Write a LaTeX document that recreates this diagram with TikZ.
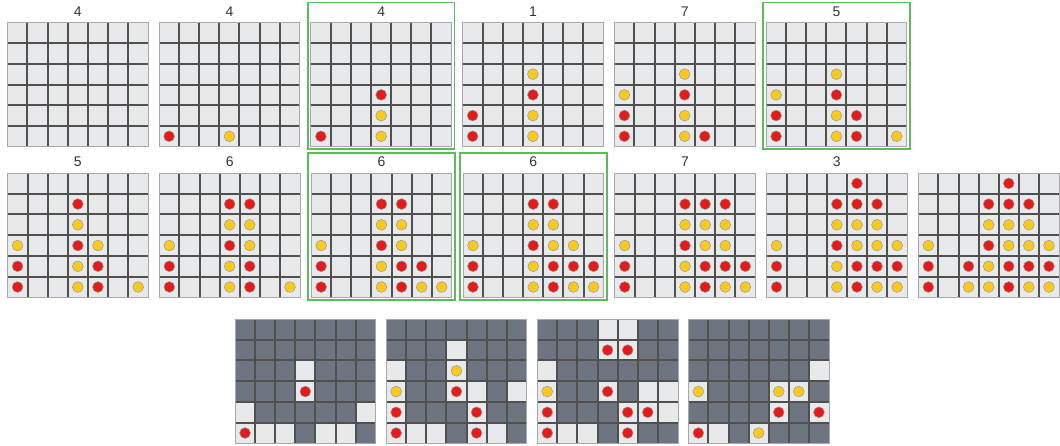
\documentclass[tikz,border=0pt]{standalone}
\usepackage{fontspec}
\setmainfont{Liberation Sans}
\usetikzlibrary{calc}

\definecolor{cellgray}{HTML}{E8E9EB}
\definecolor{slotgray}{HTML}{6E7580}
\definecolor{gridgray}{HTML}{505050}
\definecolor{edgegray}{HTML}{A8A8A8}
\definecolor{discred}{HTML}{E31B1B}
\definecolor{discyellow}{HTML}{F9C91E}
\definecolor{pickgreen}{HTML}{5DBB5D}
\definecolor{titlegray}{HTML}{333333}

\tikzset{
  cellfill/.style={fill=cellgray},
  slotfill/.style={fill=slotgray},
  gridline/.style={draw=gridgray, line width=2pt},
  boardedge/.style={draw=edgegray, line width=0.8pt},
  reddisc/.style={fill=discred, draw=gray!80, line width=0.5pt},
  yellowdisc/.style={fill=discyellow, draw=gray!80, line width=0.5pt},
  pickbox/.style={draw=pickgreen, line width=1.8pt},
  boardtitle/.style={font=\fontsize{14}{16}\selectfont, text=titlegray, anchor=base, inner sep=0pt}
}

% grid of one 7x6 board, in cell units
\newcommand{\cfgrid}{%
  \foreach \i in {1,...,6} \draw[gridline] (\i,0) -- (\i,6);
  \foreach \j in {1,...,5} \draw[gridline] (0,\j) -- (7,\j);
  \draw[boardedge] (0,0) rectangle (7,6);
}
% red and yellow discs, given as column/row
\newcommand{\cfdiscs}[2]{%
  \foreach \cc/\rr in {#1} \filldraw[reddisc] (\cc-0.5,\rr-0.5) circle (5.4pt);
  \foreach \cc/\rr in {#2} \filldraw[yellowdisc] (\cc-0.5,\rr-0.5) circle (5.4pt);
}
% #1 name, #2 left, #3 bottom, #4 title, #5 red, #6 yellow
\newcommand{\cfboard}[6]{%
  \begin{scope}[xshift=#2pt, yshift=#3pt, x=20.1pt, y=20.73pt]
    \fill[cellfill] (0,0) rectangle (7,6);
    \cfgrid
    \cfdiscs{#5}{#6}
  \end{scope}
  \node[boardtitle] (#1) at ({#2pt+70.35pt},{#3pt+130.5pt}) {#4};
}
% board with blocked cells: #3 open cells
\newcommand{\cfmask}[5]{%
  \begin{scope}[xshift=#1pt, yshift=#2pt, x=20.1pt, y=20.73pt]
    \fill[slotfill] (0,0) rectangle (7,6);
    \foreach \cc/\rr in {#3} \fill[cellfill] (\cc-1,\rr-1) rectangle (\cc,\rr);
    \cfgrid
    \cfdiscs{#4}{#5}
  \end{scope}
}
% green frame round a chosen board
\newcommand{\cfpick}[2]{%
  \begin{scope}[xshift=#1pt, yshift=#2pt, x=20.1pt, y=20.73pt]
    \draw[pickbox] (-0.15,-0.12) rectangle (7.15,6.96);
  \end{scope}
}

\begin{document}
\begin{tikzpicture}
\useasboundingbox (0,0) rectangle (1060pt,446pt);

% first row
\cfboard{t1}{7.3}{299.3}{4}{}{}
\cfboard{t2}{159.05}{299.3}{4}{1/1}{4/1}
\cfboard{t3}{310.8}{299.3}{4}{1/1,4/3}{4/1,4/2}
\cfboard{t4}{462.55}{299.3}{1}{1/1,1/2,4/3}{4/1,4/2,4/4}
\cfboard{t5}{614.3}{299.3}{7}{1/1,1/2,4/3,5/1}{1/3,4/1,4/2,4/4}
\cfboard{t6}{766.05}{299.3}{5}{1/1,1/2,4/3,5/1,5/2}{1/3,4/1,4/2,4/4,7/1}
\cfpick{310.8}{299.3}
\cfpick{766.05}{299.3}

% second row
\cfboard{m1}{7.5}{148.6}{5}{1/1,1/2,4/3,4/5,5/1,5/2}{1/3,4/1,4/2,4/4,5/3,7/1}
\cfboard{m2}{159.3}{148.6}{6}{1/1,1/2,4/3,4/5,5/1,5/2,5/5}{1/3,4/1,4/2,4/4,5/3,5/4,7/1}
\cfboard{m3}{311.1}{148.6}{6}{1/1,1/2,4/3,4/5,5/1,5/2,5/5,6/2}{1/3,4/1,4/2,4/4,5/3,5/4,6/1,7/1}
\cfboard{m4}{462.9}{148.6}{6}{1/1,1/2,4/3,4/5,5/1,5/2,5/5,6/2,7/2}{1/3,4/1,4/2,4/4,5/3,5/4,6/1,6/3,7/1}
\cfboard{m5}{614.7}{148.6}{7}{1/1,1/2,4/3,4/5,5/1,5/2,5/5,6/2,6/5,7/2}{1/3,4/1,4/2,4/4,5/3,5/4,6/1,6/3,6/4,7/1}
\cfboard{m6}{766.5}{148.6}{3}{1/1,1/2,4/3,4/5,5/1,5/2,5/5,5/6,6/2,6/5,7/2}{1/3,4/1,4/2,4/4,5/3,5/4,6/1,6/3,6/4,7/1,7/3}
\cfboard{m7}{918.3}{148.6}{}{1/1,1/2,3/2,4/3,4/5,5/1,5/2,5/5,5/6,6/2,6/5,7/2}{1/3,3/1,4/1,4/2,4/4,5/3,5/4,6/1,6/3,6/4,7/1,7/3}
\cfpick{311.1}{148.6}
\cfpick{462.9}{148.6}

% third row: open cells only
\cfmask{235}{2.6}{4/4,4/3,1/2,7/2,1/1,2/1,3/1,5/1,6/1}{4/3,1/1}{}
\cfmask{386.1}{2.6}{4/5,1/4,4/4,1/3,4/3,5/3,7/3,1/2,5/2,1/1,2/1,3/1,5/1,6/1}{4/3,1/2,5/2,1/1,5/1}{4/4,1/3}
\cfmask{537.2}{2.6}{4/6,5/6,4/5,5/5,1/4,1/3,4/3,6/3,7/3,1/2,5/2,6/2,7/2,1/1,2/1,3/1,5/1}{4/5,5/5,4/3,1/2,5/2,6/2,1/1,5/1}{1/3}
\cfmask{688.3}{2.6}{7/4,1/3,5/3,6/3,5/2,7/2,1/1,2/1,4/1}{5/2,7/2,1/1}{1/3,5/3,6/3,4/1}
\end{tikzpicture}
\end{document}
